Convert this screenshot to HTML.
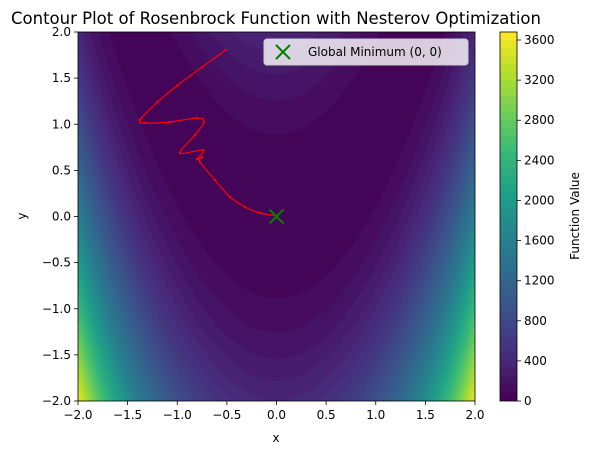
<!DOCTYPE html>
<html><head><meta charset="utf-8"><style>
body{margin:0;background:#fff;width:592px;height:455px;overflow:hidden;font-family:"DejaVu Sans","Liberation Sans",sans-serif}
#wrap{position:relative;width:592px;height:455px}
canvas{position:absolute}
svg{position:absolute;left:0;top:0}
</style></head><body>
<div id="wrap">
<canvas id="cv" width="397" height="369" style="left:78px;top:32px"></canvas>
<canvas id="cb" width="17" height="369" style="left:500px;top:32px"></canvas>
<svg id="sv" width="592" height="455"></svg>
</div>
<script>
const xTicks=[-2,-1.5,-1,-0.5,0,0.5,1,1.5,2];
const yTicks=[-2,-1.5,-1,-0.5,0,0.5,1,1.5,2];
const cbTicks=[0,400,800,1200,1600,2000,2400,2800,3200,3600];
const pathX=[-0.509,-0.75,-1.0,-1.2,-1.375,-1.325,-1.073,-0.801,-0.730,-0.821,-0.972,-0.741,-0.801,-0.751,-0.771,-0.620,-0.469,-0.317,-0.166,0.005];
const pathY=[1.805,1.62,1.42,1.24,1.046,1.014,1.024,1.068,1.024,0.883,0.688,0.721,0.623,0.645,0.591,0.396,0.211,0.103,0.038,0.005];
const minX=[0],minY=[0];
const levelStep=80, levelMax=3680;

const L=78,T=32,W=397,H=369;
const sx=x=>L+(x+2)/4*W, sy=y=>T+(2-y)/4*H;
const vir=[[68,1,84],[72,40,120],[62,74,137],[49,104,142],[38,130,142],[31,158,137],[53,183,121],[110,206,88],[181,222,43],[253,231,37]];
function cmap(t){t=Math.max(0,Math.min(1,t))*9;const i=Math.min(8,Math.floor(t)),f=t-i;const a=vir[i],b=vir[i+1];return [0,1,2].map(k=>Math.round(a[k]+(b[k]-a[k])*f));}
function bandColor(v){const i=Math.min(Math.floor(v/levelStep),levelMax/levelStep-1);const mid=(i+0.5)*levelStep;return cmap(mid/levelMax);}
const f=(x,y)=>(1-x)*(1-x)+100*(y-x*x)*(y-x*x);
const cv=document.getElementById('cv').getContext('2d');
const img=cv.createImageData(W,H);
for(let j=0;j<H;j++)for(let i=0;i<W;i++){const x=-2+(i+0.5)/W*4,y=2-(j+0.5)/H*4;const c=bandColor(f(x,y));const p=(j*W+i)*4;img.data[p]=c[0];img.data[p+1]=c[1];img.data[p+2]=c[2];img.data[p+3]=255;}
cv.putImageData(img,0,0);
const cb=document.getElementById('cb').getContext('2d');
for(let j=0;j<H;j++){const v=(H-j-0.5)/H*levelMax;const c=bandColor(v);cb.fillStyle=`rgb(${c})`;cb.fillRect(0,j,17,1);}

const NS='http://www.w3.org/2000/svg',sv=document.getElementById('sv');
function el(t,a,txt){const e=document.createElementNS(NS,t);for(const k in a)e.setAttribute(k,a[k]);if(txt!=null)e.textContent=txt;sv.appendChild(e);return e;}
const P=pathX.map((x,i)=>[sx(x),sy(pathY[i])]);
let d='M'+P[0][0].toFixed(1)+','+P[0][1].toFixed(1);
for(let i=0;i<P.length-1;i++){const p0=P[Math.max(0,i-1)],p1=P[i],p2=P[i+1],p3=P[Math.min(P.length-1,i+2)];
const c1=[p1[0]+(p2[0]-p0[0])/6,p1[1]+(p2[1]-p0[1])/6],c2=[p2[0]-(p3[0]-p1[0])/6,p2[1]-(p3[1]-p1[1])/6];
d+=`C${c1[0].toFixed(1)},${c1[1].toFixed(1)} ${c2[0].toFixed(1)},${c2[1].toFixed(1)} ${p2[0].toFixed(1)},${p2[1].toFixed(1)}`;}
const p=el('path',{d:d,fill:'none',stroke:'#f00','stroke-width':1.2});


pathX.forEach((x,i)=>{const c=el('circle',{cx:sx(x),cy:sy(pathY[i]),r:1.2,fill:'#f00'});

});
const mx=sx(minX[0]),my=sy(minY[0]);
const m=el('path',{d:`M${mx-7},${my-7}L${mx+7},${my+7}M${mx-7},${my+7}L${mx+7},${my-7}`,stroke:'#008000','stroke-width':2});


el('rect',{x:L,y:T,width:W,height:H,fill:'none',stroke:'#000','stroke-width':0.8});
el('rect',{x:500,y:T,width:17,height:H,fill:'none',stroke:'#000','stroke-width':0.8});
xTicks.forEach(v=>{const x=sx(v);el('line',{x1:x,x2:x,y1:T+H,y2:T+H+4,stroke:'#000','stroke-width':0.8});
const t=el('text',{x:x,y:T+H+18,'text-anchor':'middle','font-size':12},v.toFixed(1).replace('-','−'));

});
yTicks.forEach(v=>{const y=sy(v);el('line',{x1:L-4,x2:L,y1:y,y2:y,stroke:'#000','stroke-width':0.8});
const t=el('text',{x:L-7,y:y+4,'text-anchor':'end','font-size':12},v.toFixed(1).replace('-','−'));

});
cbTicks.forEach(v=>{const y=T+H-v/levelMax*H;el('line',{x1:517,x2:521,y1:y,y2:y,stroke:'#000','stroke-width':0.8});
const t=el('text',{x:524,y:y+4,'font-size':12},String(v));

});
const tt=el('text',{x:276,y:24,'text-anchor':'middle','font-size':16.5},'Contour Plot of Rosenbrock Function with Nesterov Optimization');


const xl=el('text',{x:276,y:442,'text-anchor':'middle','font-size':12},'x');


const yl=el('text',{x:26,y:216,'text-anchor':'middle','font-size':12,transform:'rotate(-90 26 216)'},'y');


const cl=el('text',{x:579,y:216,'text-anchor':'middle','font-size':12,transform:'rotate(-90 579 216)'},'Function Value');


const lg=el('rect',{x:264,y:39,width:204,height:26,rx:3,fill:'rgba(255,255,255,0.8)',stroke:'#ccc'});


el('path',{d:'M276,45L290,59M276,59L290,45',stroke:'#008000','stroke-width':2});
const lt=el('text',{x:308,y:56,'font-size':12},'Global Minimum (0, 0)');


</script>
</body></html>
